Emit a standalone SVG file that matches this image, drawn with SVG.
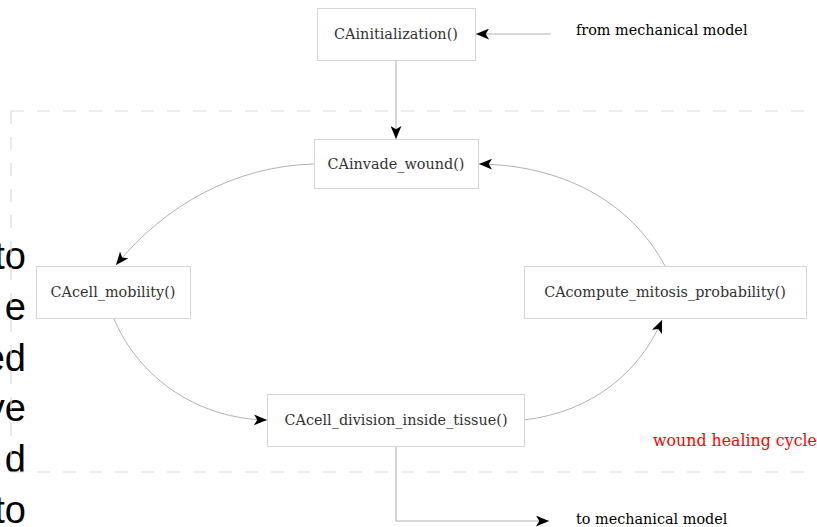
<svg xmlns="http://www.w3.org/2000/svg" width="817" height="527" viewBox="0 0 817 527">
<defs>
<style>
.box{fill:#fff;stroke:#d6d6d6;stroke-width:1}
.lbl{font-family:"DejaVu Serif",serif;font-size:14.4px;fill:#333;text-anchor:middle;dominant-baseline:central}
.ext{font-family:"DejaVu Serif",serif;font-size:14.4px;fill:#000}
.edge{fill:none;stroke:#a8a8a8;stroke-width:0.9}
.side{font-family:"Liberation Sans",Arial,sans-serif;font-size:38px;fill:#000;text-anchor:end}
</style>
<marker id="ah" viewBox="0 0 12 10" refX="12" refY="5" markerWidth="13" markerHeight="11" markerUnits="userSpaceOnUse" orient="auto">
<path d="M0,0 L12,5 L0,10 L3,5 Z" fill="#000"/>
</marker>
</defs>
<rect width="817" height="527" fill="#fff"/>
<g id="side-text">
<text class="side" x="26" y="269">to</text>
<text class="side" x="26" y="320">e</text>
<text class="side" x="26" y="371">ed</text>
<text class="side" x="26" y="421">ve</text>
<text class="side" x="26" y="472">d</text>
<text class="side" x="26" y="523">to</text>
</g>
<g id="cycle-frame">
<path d="M11,111 H817 M11,472 H817 M11,111 V472" fill="none" stroke="#dcdcdc" stroke-width="1.2" stroke-dasharray="13,13"/>
<text x="653" y="446" font-family="DejaVu Serif,serif" font-size="15.8" fill="#ff0000">wound healing cycle</text>
</g>
<g id="connectors">
<path class="edge" d="M551,34 H476" marker-end="url(#ah)"/>
<path class="edge" d="M396,60 V139" marker-end="url(#ah)"/>
<path class="edge" d="M314,164 C235,166 165,205 116,265" marker-end="url(#ah)"/>
<path class="edge" d="M114,319 C140,380 200,419 267,420" marker-end="url(#ah)"/>
<path class="edge" d="M524,420 C592,412 640,372 662,320" marker-end="url(#ah)"/>
<path class="edge" d="M665,266 C630,200 560,165 479,164" marker-end="url(#ah)"/>
<path class="edge" d="M396,446 V521 H549" marker-end="url(#ah)"/>
</g>
<g id="from-mech"><text class="ext" x="576" y="35">from mechanical model</text></g>
<g id="to-mech"><text class="ext" x="576" y="524">to mechanical model</text></g>
<g id="CAinitialization">
<rect class="box" x="317.5" y="8.5" width="158" height="52"/>
<text class="lbl" x="396" y="34">CAinitialization()</text>
</g>
<g id="CAinvade_wound">
<rect class="box" x="314.5" y="139.5" width="164" height="49"/>
<text class="lbl" x="396" y="164">CAinvade_wound()</text>
</g>
<g id="CAcell_mobility">
<rect class="box" x="36.5" y="266.5" width="154" height="52"/>
<text class="lbl" x="113" y="292">CAcell_mobility()</text>
</g>
<g id="CAcompute_mitosis_probability">
<rect class="box" x="524.5" y="266.5" width="282" height="52"/>
<text class="lbl" x="665" y="292">CAcompute_mitosis_probability()</text>
</g>
<g id="CAcell_division_inside_tissue">
<rect class="box" x="267.5" y="394.5" width="257" height="52"/>
<text class="lbl" x="396" y="420">CAcell_division_inside_tissue()</text>
</g>
</svg>
